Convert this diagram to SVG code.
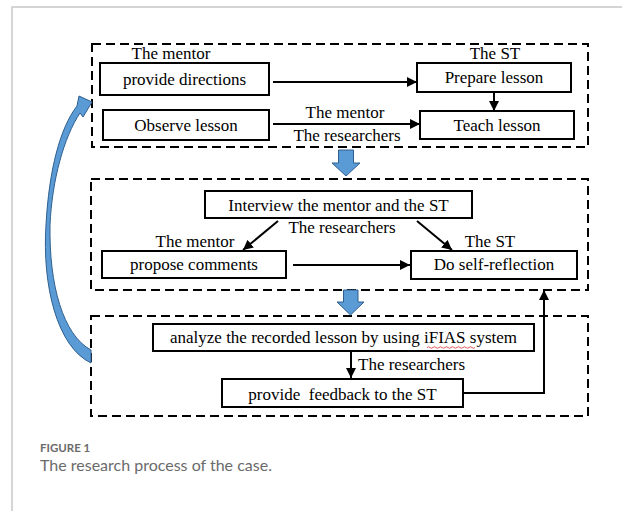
<svg xmlns="http://www.w3.org/2000/svg" width="622" height="511" viewBox="0 0 622 511">
<defs>
<marker id="ah" viewBox="0 0 10 10" refX="10" refY="5" markerWidth="5" markerHeight="5" orient="auto" markerUnits="strokeWidth">
<path d="M0,0 L10,5 L0,10 Z" fill="#000"/>
</marker>
<style>
.frame{fill:none;stroke:#000;stroke-width:2;stroke-dasharray:9 5}
.box{fill:#fff;stroke:#000;stroke-width:2}
.t{font-family:"Liberation Serif","Times New Roman",serif;font-size:17px;fill:#000;text-anchor:middle}
.c{fill:none;stroke:#000;stroke-width:2;marker-end:url(#ah)}
.blk{fill:#5b9bd5;stroke:#2f5f8f;stroke-width:1}
</style>
</defs>
<rect width="622" height="511" fill="#fff"/>
<path d="M12,511 V7 H622" fill="none" stroke="#c8c8c8" stroke-width="1.5"/>

<g id="frames">
<rect class="frame" x="92" y="44" width="496" height="103"/>
<rect class="frame" x="91" y="179" width="497" height="111"/>
<rect class="frame" x="91" y="316" width="497" height="100"/>
</g>

<g id="n-provide-directions"><rect class="box" x="100" y="63" width="169" height="32"/><text class="t" x="184.5" y="85">provide directions</text></g>
<g id="n-prepare-lesson"><rect class="box" x="417" y="63" width="154" height="29"/><text class="t" x="494" y="83">Prepare lesson</text></g>
<g id="n-observe-lesson"><rect class="box" x="103" y="110" width="166" height="30"/><text class="t" x="186" y="131">Observe lesson</text></g>
<g id="n-teach-lesson"><rect class="box" x="420" y="111" width="154" height="28"/><text class="t" x="497" y="131">Teach lesson</text></g>
<g id="n-interview"><rect class="box" x="205" y="191" width="267" height="27"/><text class="t" x="338.5" y="211">Interview the mentor and the ST</text></g>
<g id="n-propose-comments"><rect class="box" x="102" y="251" width="184" height="27"/><text class="t" x="194" y="270">propose comments</text></g>
<g id="n-self-reflection"><rect class="box" x="411" y="251" width="166" height="28"/><text class="t" x="494" y="270">Do self-reflection</text></g>
<g id="n-analyze"><rect class="box" x="153" y="324" width="381" height="27"/><text class="t" x="343.5" y="343">analyze the recorded lesson by using iFIAS system</text>
<path d="M427,347.5 q1.5,-1.5 3,0 t3,0 t3,0 t3,0 t3,0 t3,0 t3,0 t3,0 t3,0 t3,0 t3,0 t3,0 t3,0 t3,0 t3,0 t3,0" fill="none" stroke="#e03030" stroke-width="0.8"/></g>
<g id="n-feedback"><rect class="box" x="222" y="379" width="241" height="28"/><text class="t" x="342.5" y="400">provide&#160; feedback to the ST</text></g>

<g id="labels">
<text class="t" x="171" y="59">The mentor</text>
<text class="t" x="495" y="59">The ST</text>
<text class="t" x="345" y="118">The mentor</text>
<text class="t" x="347" y="141">The researchers</text>
<text class="t" x="342" y="233">The researchers</text>
<text class="t" x="195" y="247">The mentor</text>
<text class="t" x="490" y="247">The ST</text>
<text class="t" x="358" y="370" style="text-anchor:start">The researchers</text>
</g>

<g id="connectors">
<line class="c" x1="273" y1="82" x2="417" y2="82"/>
<line class="c" x1="494" y1="92" x2="494" y2="111"/>
<line class="c" x1="273" y1="124" x2="420" y2="124"/>
<line class="c" x1="278" y1="221" x2="243" y2="250"/>
<line class="c" x1="417" y1="221" x2="452" y2="250"/>
<line class="c" x1="293" y1="265" x2="410" y2="265"/>
<line class="c" x1="351" y1="351" x2="351" y2="378"/>
<polyline class="c" points="463,393 544,393 544,290"/>
<path class="blk" d="M338.5,150 H353.5 V163 H360 L346,176 L332,163 H338.5 Z"/>
<path class="blk" d="M343.5,290 H358 V302 H364 L350.5,315 L337,302 H343.5 Z"/>
<path class="blk" d="M91,363 C57,347 42,285 46,225 C49,170 60,128 77,106 L79,96 L92,102 L83,117 L80,113 C64,137 52,180 50,225 C49,285 63,335 91,350 Z"/>
</g>

<g id="caption">
<text x="40" y="452" style="font-family:Lato,'Open Sans',sans-serif;font-size:11.5px;font-weight:bold;fill:#6b6b6b">FIGURE 1</text>
<text x="40" y="471" style="font-family:Lato,'Open Sans',sans-serif;font-size:16px;fill:#6b6b6b">The research process of the case.</text>
</g>
</svg>
